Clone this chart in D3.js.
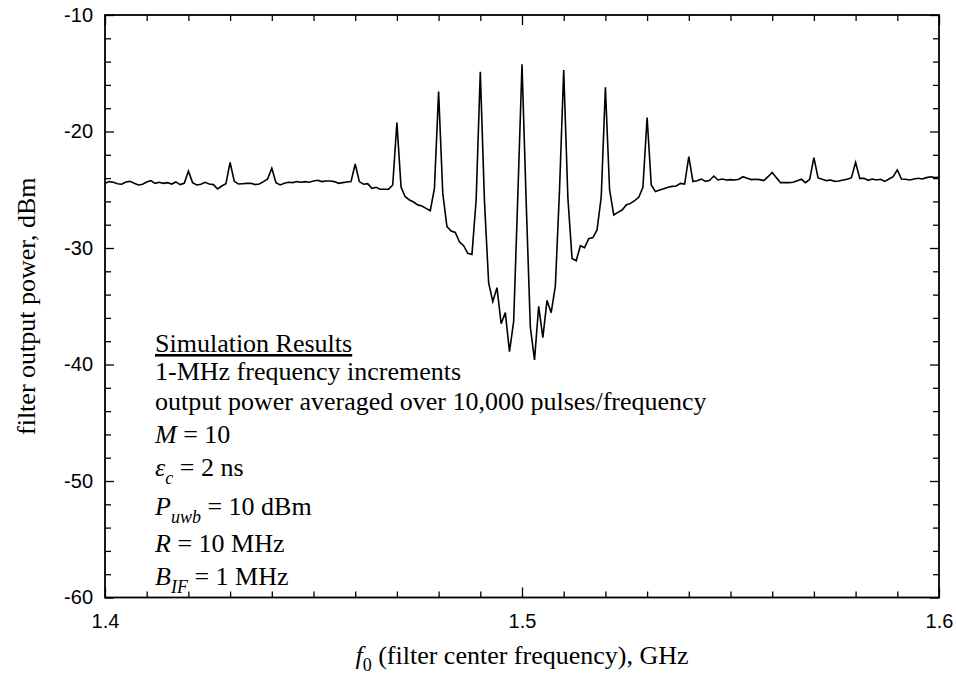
<!DOCTYPE html>
<html>
<head>
<meta charset="utf-8">
<script src="https://cdn.jsdelivr.net/npm/d3@7"></script>
<style>
  html, body { margin: 0; padding: 0; background: #fff; }
  svg { display: block; }
  .tick text { font-family: "Liberation Sans", Arial, sans-serif; font-size: 20px; fill: #000; }
  .tick line { stroke: #000; stroke-width: 1.3px; }
  .serif { font-family: "Liberation Serif", "Times New Roman", serif; fill: #000; }
</style>
</head>
<body>
<svg id="chart" width="956" height="690"></svg>
<script>
// ---- data ----
// Frequencies: 1.400 GHz to 1.600 GHz in 1-MHz increments (as stated on the chart)
const freqStartGHz = 1.4;
const freqStepGHz = 0.001;
// Filter output power (dBm), one value per 1-MHz step
const powerDbm = [
  -24.45,-24.30,-24.36,-24.48,-24.53,-24.33,-24.28,-24.45,-24.59,-24.53,
  -24.33,-24.22,-24.45,-24.36,-24.45,-24.39,-24.51,-24.33,-24.56,-24.45,
  -23.40,-24.39,-24.59,-24.53,-24.36,-24.51,-24.56,-24.93,-24.68,-24.48,
  -22.65,-24.28,-24.51,-24.48,-24.45,-24.45,-24.56,-24.51,-24.30,-24.08,
  -23.16,-24.39,-24.59,-24.45,-24.36,-24.39,-24.30,-24.36,-24.30,-24.36,
  -24.25,-24.19,-24.30,-24.25,-24.25,-24.30,-24.45,-24.39,-24.33,-24.30,
  -22.79,-24.30,-24.53,-24.48,-24.88,-24.79,-24.96,-24.96,-24.96,-24.59,
  -19.24,-24.79,-25.60,-25.88,-26.05,-26.30,-26.40,-26.60,-26.80,-24.88,
  -16.58,-25.30,-28.17,-28.54,-28.66,-29.46,-29.80,-30.46,-30.55,-25.88,
  -14.87,-26.00,-33.00,-34.60,-33.40,-36.50,-35.55,-38.90,-36.30,-25.50,
  -14.23,-26.00,-36.80,-39.60,-35.00,-37.70,-34.50,-35.55,-33.25,-25.00,
  -14.72,-25.70,-30.90,-31.10,-29.80,-29.97,-29.20,-29.10,-28.45,-25.60,
  -16.20,-25.00,-27.17,-26.94,-26.74,-26.30,-26.17,-25.94,-25.65,-24.80,
  -18.80,-24.59,-25.16,-25.02,-24.91,-24.79,-24.71,-24.68,-24.45,-24.51,
  -22.16,-24.30,-24.22,-24.08,-24.28,-24.19,-23.82,-24.16,-24.08,-24.16,
  -24.13,-24.16,-24.10,-23.88,-24.02,-24.13,-24.10,-24.13,-24.22,-23.88,
  -23.51,-23.96,-24.39,-24.39,-24.39,-24.36,-24.22,-24.10,-24.39,-24.10,
  -22.25,-23.99,-24.10,-24.22,-24.16,-24.28,-24.25,-24.16,-24.10,-23.96,
  -22.65,-24.02,-24.02,-24.19,-24.08,-24.16,-24.10,-24.28,-24.08,-23.88,
  -23.30,-24.08,-24.10,-24.16,-24.08,-24.02,-24.08,-23.96,-23.88,-23.96,
  -23.93
];
const xDomain = [1.4, 1.6];
const yDomain = [-60, -10];
const xMajorTicks = [1.4, 1.5, 1.6];
const xTickLabels = ["1.4", "1.5", "1.6"];
const xMinorStep = 0.01;
const yMajorTicks = [-60, -50, -40, -30, -20, -10];
const yTickLabels = ["-60", "-50", "-40", "-30", "-20", "-10"];
const yMinorStep = 2;

const xLabelMain = "f";
const xLabelSub = "0";
const xLabelRest = " (filter center frequency), GHz";
const yLabel = "filter output power, dBm";

// annotation lines: array of [text, style] segments
const notes = [
  [["Simulation Results", "u"]],
  [["1-MHz frequency increments", "n"]],
  [["output power averaged over 10,000 pulses/frequency", "n"]],
  [["M", "i"], [" = 10", "n"]],
  [["\u03B5", "i"], ["c", "isub"], [" = 2 ns", "n"]],
  [["P", "i"], ["uwb", "isub"], [" = 10 dBm", "n"]],
  [["R", "i"], [" = 10 MHz", "n"]],
  [["B", "i"], ["IF", "isub"], [" = 1 MHz", "n"]]
];
const noteBaselines = [352, 380, 410, 443, 476, 515, 552, 585];

// ---- layout ----
const margin = { left: 105, right: 956 - 939, top: 15, bottom: 690 - 597.5 };
const W = 956, H = 690;
const iw = W - margin.left - margin.right;
const ih = H - margin.top - margin.bottom;

const svg = d3.select("#chart");
svg.append("rect").attr("width", W).attr("height", H).attr("fill", "#fff");
const g = svg.append("g").attr("transform", `translate(${margin.left},${margin.top})`);

const x = d3.scaleLinear().domain(xDomain).range([0, iw]);
const y = d3.scaleLinear().domain(yDomain).range([ih, 0]);

const nX = Math.round((xDomain[1] - xDomain[0]) / xMinorStep);
const xMinor = d3.range(nX + 1).map(i => +(xDomain[0] + i * xMinorStep).toFixed(3))
  .filter(v => !xMajorTicks.some(m => Math.abs(m - v) < 1e-9));
const nY = Math.round((yDomain[1] - yDomain[0]) / yMinorStep);
const yMinor = d3.range(nY + 1).map(i => yDomain[0] + i * yMinorStep)
  .filter(v => !yMajorTicks.includes(v));

function clean(sel) { sel.select(".domain").remove(); }

// bottom
g.append("g").attr("transform", `translate(0,${ih})`)
  .call(d3.axisBottom(x).tickValues(xMinor).tickSize(-6).tickFormat("")).call(clean);
g.append("g").attr("transform", `translate(0,${ih})`)
  .call(d3.axisBottom(x).tickValues(xMajorTicks).tickSize(-10).tickPadding(16)
    .tickFormat((d, i) => xTickLabels[i])).call(clean);
// top
g.append("g")
  .call(d3.axisTop(x).tickValues(xMinor).tickSize(-6).tickFormat("")).call(clean);
g.append("g")
  .call(d3.axisTop(x).tickValues(xMajorTicks).tickSize(-10).tickFormat("")).call(clean);
// left
g.append("g")
  .call(d3.axisLeft(y).tickValues(yMinor).tickSize(-6).tickFormat("")).call(clean);
g.append("g")
  .call(d3.axisLeft(y).tickValues(yMajorTicks).tickSize(-9).tickPadding(12)
    .tickFormat((d, i) => yTickLabels[i])).call(clean);
// right
g.append("g").attr("transform", `translate(${iw},0)`)
  .call(d3.axisRight(y).tickValues(yMinor).tickSize(-6).tickFormat("")).call(clean);
g.append("g").attr("transform", `translate(${iw},0)`)
  .call(d3.axisRight(y).tickValues(yMajorTicks).tickSize(-9).tickFormat("")).call(clean);

// frame
g.append("rect").attr("x", 0).attr("y", 0).attr("width", iw).attr("height", ih)
  .attr("fill", "none").attr("stroke", "#000").attr("stroke-width", 1.8);

// data line
const pts = powerDbm.map((v, i) => ({ f: freqStartGHz + i * freqStepGHz, p: v }));
const line = d3.line().x(d => x(d.f)).y(d => y(d.p));
g.append("path").datum(pts).attr("d", line)
  .attr("fill", "none").attr("stroke", "#000").attr("stroke-width", 1.6)
  .attr("stroke-linejoin", "miter");

// annotations
const noteX = 155;
notes.forEach((segs, li) => {
  const t = svg.append("text").attr("class", "serif")
    .attr("x", noteX).attr("y", noteBaselines[li]).attr("font-size", 26);
  segs.forEach(([txt, st], si) => {
    const ts = t.append("tspan").text(txt);
    if (st === "u") ts.attr("text-decoration", "underline");
    if (st === "i") ts.attr("font-style", "italic");
    if (st === "isub") ts.attr("font-style", "italic").attr("font-size", 18).attr("dy", 8);
    if (st === "n" && si > 0 && segs[si - 1][1] === "isub") ts.attr("dy", -8);
  });
});

// x label
const xl = svg.append("text").attr("class", "serif").attr("font-size", 26)
  .attr("text-anchor", "middle").attr("x", margin.left + iw / 2).attr("y", 664);
xl.append("tspan").attr("font-style", "italic").text(xLabelMain);
xl.append("tspan").attr("font-size", 18).attr("dy", 7).text(xLabelSub);
xl.append("tspan").attr("dy", -7).text(xLabelRest);

// y label
svg.append("text").attr("class", "serif").attr("font-size", 26)
  .attr("text-anchor", "middle")
  .attr("transform", `translate(35,${margin.top + ih / 2}) rotate(-90)`)
  .text(yLabel);
</script>
</body>
</html>
